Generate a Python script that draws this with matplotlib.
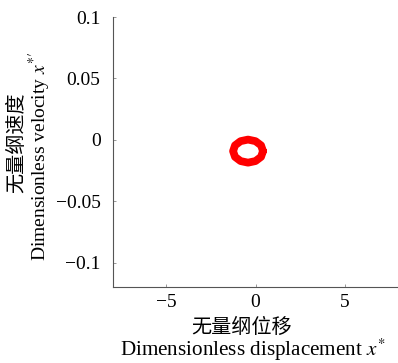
import matplotlib
matplotlib.use("Agg")
import matplotlib.pyplot as plt
import numpy as np

# phase trajectory: limit cycle (centerline)
disp = [0.42, 0.31, -0.0, -0.42, -0.84, -1.15, -1.26, -1.15, -0.84, -0.42, 0.0, 0.31, 0.42]
vel = [-0.0092, -0.0045, -0.0011, 0.0002, -0.0011, -0.0045, -0.0092,
       -0.0139, -0.0173, -0.0186, -0.0173, -0.0139, -0.0092]

xticks = [-5, 0, 5]
xticklabels = ["\u22125", "0", "5"]
yticks = [-0.1, -0.05, 0, 0.05, 0.1]
yticklabels = ["\u22120.1", "\u22120.05", "0", "0.05", "0.1"]

plt.rcParams['font.family'] = ['Liberation Serif', 'Noto Sans CJK SC']
plt.rcParams['mathtext.fontset'] = 'stix'

fig = plt.figure(figsize=(3.98, 3.63), dpi=100)
ax = fig.add_axes([0.284, 0.209, 0.716, 0.744])

ax.plot(disp, vel, color='#ff0000', lw=5.6, solid_joinstyle='round', solid_capstyle='round')

ax.set_xlim(-8, 8)
ax.set_ylim(-0.12, 0.1)
ax.set_xticks(xticks)
ax.set_xticklabels(xticklabels)
ax.set_yticks(yticks)
ax.set_yticklabels(yticklabels)
ax.tick_params(direction='in', length=2, width=0.6, color='#888888', labelsize=14)
ax.tick_params(axis='x', pad=5)
ax.tick_params(axis='y', pad=9)

for s in ['top', 'right']:
    ax.spines[s].set_visible(False)
for s in ['left', 'bottom']:
    ax.spines[s].set_color('#555555')
    ax.spines[s].set_linewidth(0.8)

# axis titles, Chinese line above English line
fig.text(242 / 398, 1 - 328 / 363, "\u65e0\u91cf\u7eb2\u4f4d\u79fb", fontsize=14.5,
         ha='center', va='center')
fig.text(253 / 398, 1 - 350 / 363, "Dimensionless displacement $x^{*}$", fontsize=15.2,
         ha='center', va='center')
fig.text(18 / 398, 1 - 143 / 363, "\u65e0\u91cf\u7eb2\u901f\u5ea6", fontsize=14.5,
         ha='center', va='center', rotation=90)
fig.text(40 / 398, 1 - 156 / 363, "Dimensionless velocity $x^{*\\prime}$", fontsize=14,
         ha='center', va='center', rotation=90)

fig.savefig("out.png", dpi=100)
